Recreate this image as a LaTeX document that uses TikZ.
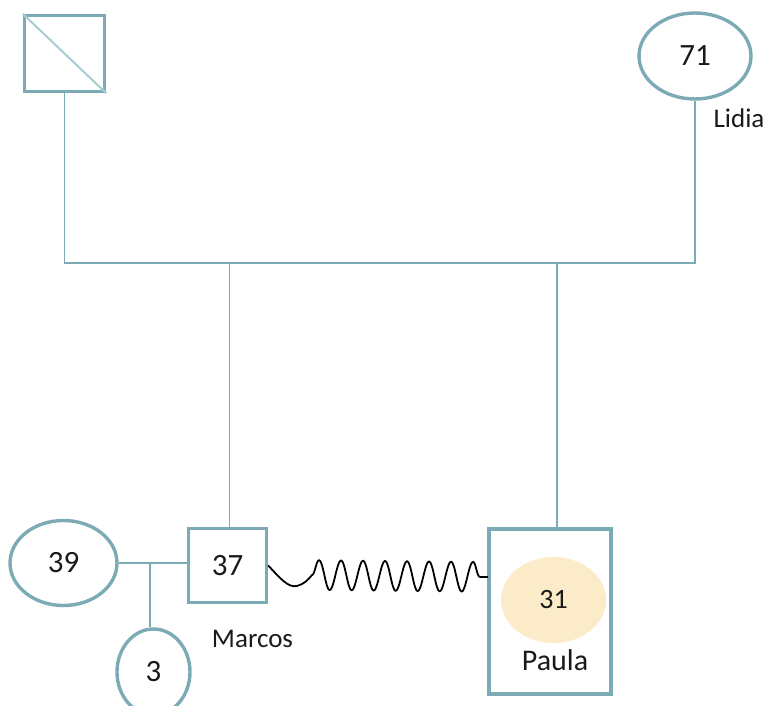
\documentclass[tikz,border=0pt]{standalone}
\usepackage{fontspec}
\setmainfont{Carlito}
\usetikzlibrary{shapes.geometric,decorations.pathmorphing}
\definecolor{kin}{RGB}{124,170,181}
\definecolor{kinlight}{RGB}{168,204,212}
\definecolor{ink}{RGB}{26,26,26}
\definecolor{peach}{RGB}{251,235,200}
\tikzset{
  person/.style={draw=kin, line width=3.4pt, inner sep=0pt, text=ink,
                 font=\fontsize{31}{36}\selectfont},
  male/.style={person, rectangle},
  female/.style={person, ellipse},
  tie/.style={draw=kin, line width=1.7pt},
  lbl/.style={text=ink, anchor=base, inner sep=0pt, font=\fontsize{27}{32}\selectfont},
  bond/.style={draw=black, line width=1.8pt, line join=round}
}
\begin{document}
\begin{tikzpicture}[x=1pt,y=-1pt]
\path[use as bounding box] (0,0) rectangle (766,706);

% first generation
\node[male, minimum width=80, minimum height=76] (f0) at (64.5,53.5) {};
\draw[kinlight, line width=2pt] (f0.north west) -- (f0.south east);
\node[female, minimum width=112, minimum height=86] (l71) at (695,56) {71};
\node[lbl] (lidia) at (739,128) {Lidia};

% sibship bar
\coordinate (bar) at (0,263);
\draw[tie] (f0.south) -- (f0.south |- bar) -| (l71.south);

% second generation
\node[male, minimum width=78, minimum height=74] (m37) at (227.5,565.5) {37};
\node[lbl] (marcos) at (252.5,647) {Marcos};
\node[male, minimum width=122, minimum height=165] (pbox) at (550,611.5) {};
\node[ellipse, fill=peach, inner sep=0pt, minimum width=105, minimum height=86,
      text=ink, font=\fontsize{28}{34}\selectfont] (p31) at (553.5,600) {31};
\node[lbl, font=\fontsize{30}{34}\selectfont] (paula) at (555,670) {Paula};

\draw[tie] ([xshift=2pt]m37.north) -- ([xshift=2pt]m37.north |- bar);
\draw[tie] ([xshift=7pt]pbox.north) -- ([xshift=7pt]pbox.north |- bar);

% partner and child of Marcos
\node[female, minimum width=107, minimum height=85] (w39) at (63.5,563) {39};
\node[female, minimum width=73, minimum height=86] (c3) at (153.5,672) {3};
\coordinate (cpt) at (150,563);
\draw[tie] (w39.east) -- (w39.east -| m37.west);
\draw[tie] (cpt) -- (cpt |- c3.north);

% wavy link between Marcos and Paula
\coordinate (wstart) at (312,575);
\coordinate (wend) at (488,577);
\draw[bond] (m37.east) .. controls (280,578) and (288,588) .. (297,586)
  .. controls (304,584) and (308,580) .. (wstart)
  decorate[decoration={snake, segment length=22pt, amplitude=15pt}] { -- (wend) };
\end{tikzpicture}
\end{document}
